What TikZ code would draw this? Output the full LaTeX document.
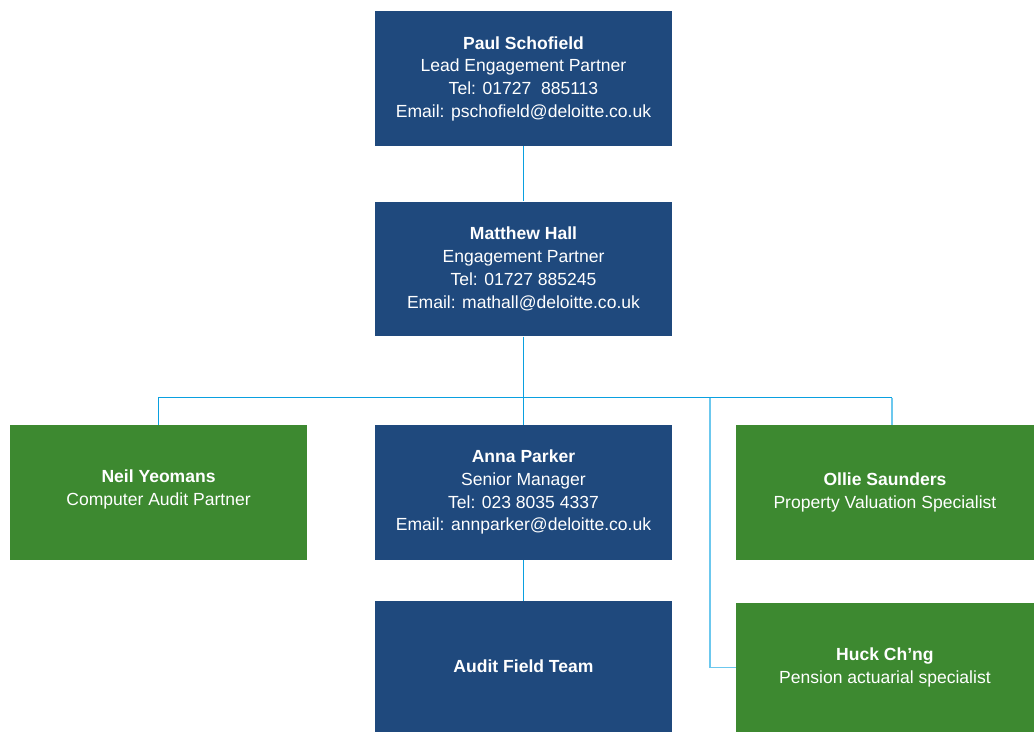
\documentclass[tikz,border=0pt]{standalone}
\usepackage{fontspec}
\setmainfont{Liberation Sans}
\usepackage{tikz}
\usetikzlibrary{
  positioning,
  calc
}
\usepackage{xcolor}
\definecolor{deloitteblue}{HTML}{1F497D}
\definecolor{deloittegreen}{HTML}{3D8930}
\definecolor{linkblue}{HTML}{0AA0E0}
\definecolor{linklight}{HTML}{6CC8EE}
\tikzset{
  person/.style={
    rectangle, fill=#1, text=white,
    minimum width=5.94cm, minimum height=2.7cm, inner sep=0pt,
    font=\fontsize{10}{13}\selectfont, align=center
  },
  person/.default=deloitteblue,
  link/.style={draw=linkblue, line width=1pt},
  sidelink/.style={draw=linklight, line width=1pt},
}

\begin{document}
\begin{tikzpicture}

% Partners
\node[person] (paul) {\textbf{Paul Schofield}\\Lead Engagement Partner\\Tel: 01727\ \ 885113\\Email: pschofield@deloitte.co.uk};
\node[person, below=1.1cm of paul] (matthew) {\textbf{Matthew Hall}\\Engagement Partner\\Tel: 01727 885245\\Email: mathall@deloitte.co.uk};

% Team and specialists
\node[person, below=1.76cm of matthew] (anna) {\textbf{Anna Parker}\\Senior Manager\\Tel: 023 8035 4337\\Email: annparker@deloitte.co.uk};
\node[person=deloittegreen, left=1.36cm of anna] (neil) {\textbf{Neil Yeomans}\\Computer Audit Partner\\[-0.26cm]};
\node[person=deloittegreen, right=1.28cm of anna, minimum width=5.96cm] (ollie) {\textbf{Ollie Saunders}\\Property Valuation Specialist};
\node[person, below=0.82cm of anna, minimum height=2.62cm] (audit) {\textbf{Audit Field Team}};
\node[person=deloittegreen, below=0.86cm of ollie, minimum width=5.96cm, minimum height=2.58cm] (huck) {\textbf{Huck Ch’ng}\\Pension actuarial specialist};

% Reporting lines
\coordinate (bus) at ($(matthew.south)+(0,-1.22)$);
\coordinate (busend) at ($(ollie.north |- bus)+(0.14,0)$);
\coordinate (hbranch) at ($(huck.west |- bus)+(-0.52,0)$);
\draw[link] (paul) -- (matthew);
\draw[link] (matthew) -- (anna);
\draw[link] (anna) -- (audit);
\draw[link] (neil.north) |- (busend);
\draw[sidelink] (busend) -- ($(ollie.north)+(0.14,0)$);
\draw[sidelink] (hbranch) |- (huck.west);

\useasboundingbox ($(neil.west |- paul.north)+(-0.2,0.22)$) rectangle (ollie.east |- audit.south);

\end{tikzpicture}
\end{document}
